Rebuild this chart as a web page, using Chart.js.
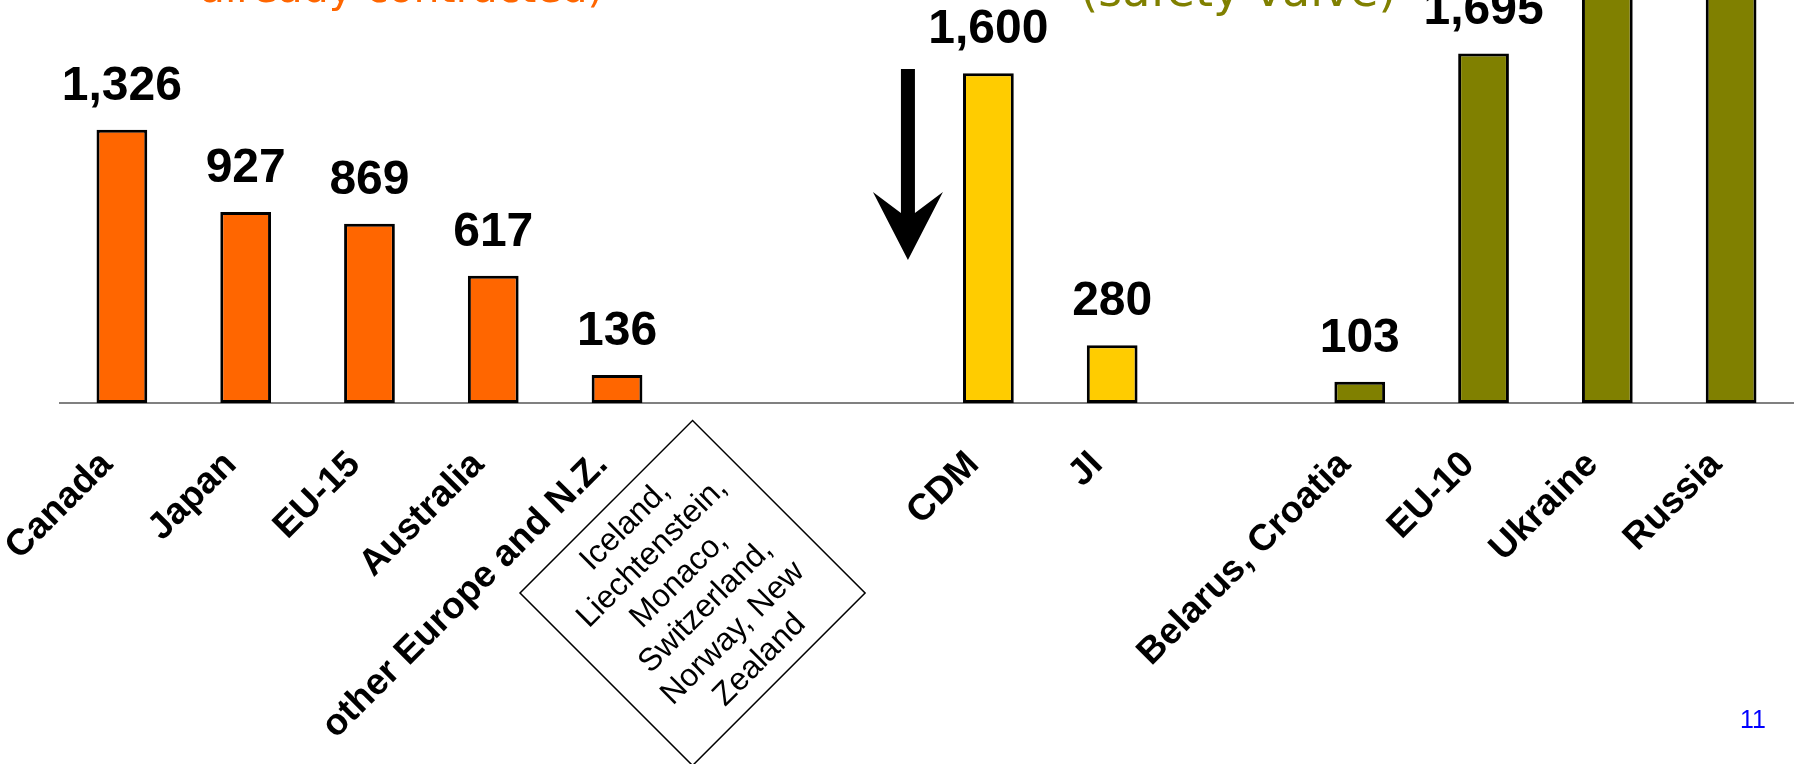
<!DOCTYPE html>
<html>
<head>
<meta charset="utf-8">
<script src="https://cdn.jsdelivr.net/npm/chart.js@4.4.1/dist/chart.umd.min.js"></script>
<style>
  html, body { margin: 0; padding: 0; background: #ffffff; }
  #wrap { width: 1796px; height: 764px; position: relative; }
</style>
</head>
<body>
<div id="wrap"><canvas id="c" width="1796" height="764"></canvas></div>
<script>
// ---- data ----
const categories = ['Canada', 'Japan', 'EU-15', 'Australia', 'other Europe and N.Z.', '', '', 'CDM', 'JI', '', 'Belarus, Croatia', 'EU-10', 'Ukraine', 'Russia'];
const buyers   = [1326, 927, 869, 617, 136, null, null, null, null, null, null, null, null, null];
const projects = [null, null, null, null, null, null, null, 1600, 280, null, null, null, null, null];
const sellers  = [null, null, null, null, null, null, null, null, null, null, 103, 1695, 2200, 3300];
const boxLines = ['Iceland,', 'Liechtenstein,', 'Monaco,', 'Switzerland,', 'Norway, New', 'Zealand'];
const topNotes = [
  { text: 'already contracted)', color: '#FF6600', at: 2.26, baseline: 2, size: 41 },
  { text: '(safety valve)', color: '#808000', at: 9.02, baseline: 6, size: 46 }
];
const pageNumber = '11';

const COLORS = { buyers: '#FF6600', projects: '#FFCC00', sellers: '#808000' };
const FONT = "'Liberation Sans', Arial, Helvetica, sans-serif";

// value labels above bars
const valueLabels = {
  id: 'valueLabels',
  afterDatasetsDraw(chart) {
    const ctx = chart.ctx;
    ctx.save();
    ctx.font = 'bold 48px ' + FONT;
    ctx.fillStyle = '#000';
    ctx.textAlign = 'center';
    ctx.textBaseline = 'alphabetic';
    chart.data.datasets.forEach((ds, di) => {
      const meta = chart.getDatasetMeta(di);
      meta.data.forEach((el, i) => {
        const v = ds.data[i];
        if (v === null || v === undefined) return;
        ctx.fillText(v.toLocaleString('en-US'), el.x, el.y - 30);
      });
    });
    ctx.restore();
  }
};

// annotations: arrow, diamond note, partial headings, page number
const annotations = {
  id: 'annotations',
  afterDraw(chart) {
    const ctx = chart.ctx;
    const xs = chart.scales.x, ys = chart.scales.y;
    ctx.save();

    // arrow
    const ax = xs.getPixelForValue(6.35);
    const yTop = ys.getPixelForValue(1620);
    const yWing = ys.getPixelForValue(1023);
    const yNotch = ys.getPixelForValue(922);
    const yTip = ys.getPixelForValue(694);
    ctx.fillStyle = '#000';
    ctx.beginPath();
    ctx.moveTo(ax - 7, yTop);
    ctx.lineTo(ax + 7, yTop);
    ctx.lineTo(ax + 7, yNotch);
    ctx.lineTo(ax + 35, yWing);
    ctx.lineTo(ax, yTip);
    ctx.lineTo(ax - 35, yWing);
    ctx.lineTo(ax - 7, yNotch);
    ctx.closePath();
    ctx.fill();

    // diamond note box
    const cx = xs.getPixelForValue(4.61);
    const cy = chart.chartArea.bottom + 190;
    ctx.translate(cx, cy);
    ctx.rotate(-Math.PI / 4);
    ctx.strokeStyle = '#000';
    ctx.lineWidth = 1.5;
    ctx.strokeRect(-122, -122, 244, 244);
    ctx.fillStyle = '#000';
    ctx.font = '32px ' + FONT;
    ctx.textAlign = 'center';
    ctx.textBaseline = 'middle';
    const lh = 38;
    boxLines.forEach((t, i) => {
      ctx.fillText(t, 0, (i - (boxLines.length - 1) / 2) * lh);
    });
    ctx.setTransform(1, 0, 0, 1, 0, 0);

    // partial headings at top
    topNotes.forEach(n => {
      ctx.font = n.size + "px 'DejaVu Sans', Verdana, sans-serif";
      ctx.fillStyle = n.color;
      ctx.textAlign = 'center';
      ctx.textBaseline = 'alphabetic';
      ctx.fillText(n.text, xs.getPixelForValue(n.at), n.baseline);
    });

    // page number
    ctx.font = '25px ' + FONT;
    ctx.fillStyle = '#0000FF';
    ctx.textAlign = 'center';
    ctx.fillText(pageNumber, 1753, 728);
    ctx.restore();
  }
};

const barCommon = {
  borderColor: '#000',
  borderWidth: 3,
  borderSkipped: false,
  grouped: false,
  barPercentage: 0.41,
  categoryPercentage: 1.0
};

new Chart(document.getElementById('c'), {
  type: 'bar',
  data: {
    labels: categories,
    datasets: [
      Object.assign({ label: 'buyers', data: buyers, backgroundColor: COLORS.buyers }, barCommon),
      Object.assign({ label: 'projects', data: projects, backgroundColor: COLORS.projects }, barCommon),
      Object.assign({ label: 'sellers', data: sellers, backgroundColor: COLORS.sellers }, barCommon)
    ]
  },
  options: {
    responsive: false,
    devicePixelRatio: 1,
    animation: false,
    layout: { padding: { left: 60, right: 3, top: 0, bottom: 0 } },
    plugins: { legend: { display: false }, tooltip: { enabled: false }, title: { display: false } },
    scales: {
      x: {
        grid: { display: false, drawTicks: false },
        border: { display: true, color: '#808080', width: 2 },
        ticks: {
          autoSkip: false,
          minRotation: 45,
          maxRotation: 45,
          color: '#000',
          padding: 40,
          labelOffset: -15,
          font: { family: FONT, size: 37, weight: 'bold', lineHeight: 1.2 }
        },
        afterFit(scale) {
          scale.height = 361;
          scale.paddingLeft = 0;
          scale.paddingRight = 0;
          scale.paddingTop = 0;
          scale.paddingBottom = 0;
        }
      },
      y: { display: false, min: 0, max: 1955 }
    }
  },
  plugins: [valueLabels, annotations]
});
</script>
</body>
</html>
